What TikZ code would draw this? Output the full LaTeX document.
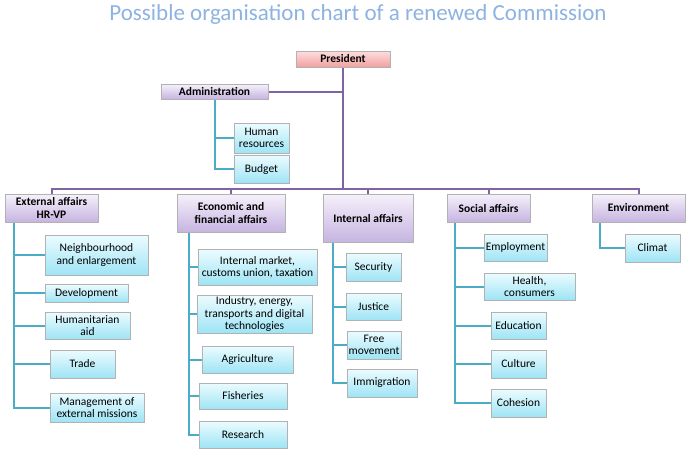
\documentclass[tikz,border=0pt]{standalone}
\usepackage{fontspec}
\setmainfont{Carlito}
\usetikzlibrary{shadows,backgrounds}
\definecolor{leadline}{RGB}{128,100,162}
\definecolor{unitline}{RGB}{75,172,198}
\definecolor{titleblue}{RGB}{141,179,226}
\definecolor{leadtop}{RGB}{246,241,251}
\definecolor{leadbot}{RGB}{198,180,224}
\definecolor{unittop}{RGB}{236,252,255}
\definecolor{unitbot}{RGB}{158,228,245}
\definecolor{prestop}{RGB}{253,222,222}
\definecolor{presbot}{RGB}{241,160,160}
\tikzset{
  sz/.style 2 args={minimum width=#1pt, minimum height=#2pt},
  base/.style={draw=black!30, inner sep=1pt, align=center, font=\fontsize{11.5}{12.5}\selectfont,
    drop shadow={shadow xshift=1.2pt, shadow yshift=-1.2pt, opacity=.35}},
  pres/.style={base, top color=prestop, bottom color=presbot, font=\fontsize{11.5}{12.5}\selectfont\bfseries},
  lead/.style={base, top color=leadtop, bottom color=leadbot, font=\fontsize{11.5}{13.5}\selectfont\bfseries},
  unit/.style={base, top color=unittop, bottom color=unitbot},
  leadwire/.style={draw=leadline, line width=2pt},
  unitwire/.style={draw=unitline, line width=2pt}
}
\begin{document}
\begin{tikzpicture}[x=1pt, y=-1pt]
    \useasboundingbox (0,0) rectangle (689,459);
    \node[text=titleblue, font=\fontsize{23}{25}\selectfont] (title) at (358,14) {Possible organisation chart of a renewed Commission};

    \coordinate (bar) at (0,189);
    \node[pres, sz={94}{16}] (pres) at (343,59) {President};
    \node[lead, sz={107}{15}] (adm) at (214.5,91.5) {Administration};
    \node[unit, sz={55}{30}] (hr) at (261.5,138) {Human\\resources};
    \node[unit, sz={55}{28}] (bud) at (261.5,169) {Budget};

    \node[lead, sz={93}{28}] (ext) at (51.5,208) {External affairs\\HR-VP};
    \node[lead, sz={108}{38}] (eco) at (231,213) {Economic and\\financial affairs};
    \node[lead, sz={90}{48}] (int) at (368,218) {Internal affairs};
    \node[lead, sz={83}{28}] (soc) at (488.5,208) {Social affairs};
    \node[lead, sz={93}{28}] (env) at (638.5,208) {Environment};

    \node[unit, sz={103}{40}] (nbh) at (96.5,255) {Neighbourhood\\and enlargement};
    \node[unit, sz={83}{18}] (dev) at (86.5,293) {Development};
    \node[unit, sz={85}{27}] (hum) at (87.5,325.5) {Humanitarian\\aid};
    \node[unit, sz={65}{28}] (trd) at (82.5,364) {Trade};
    \node[unit, sz={94}{29}] (mgt) at (97,407.5) {Management of\\external missions};

    \node[unit, sz={119}{36}] (ima) at (257.5,267) {Internal market,\\customs union, taxation};
    \node[unit, sz={115}{38}] (ind) at (254.5,314) {Industry, energy,\\transports and digital\\technologies};
    \node[unit, sz={91}{27}] (agr) at (247.5,359.5) {Agriculture};
    \node[unit, sz={88}{26}] (fis) at (243,396) {Fisheries};
    \node[unit, sz={88}{27}] (res) at (243,434.5) {Research};

    \node[unit, sz={55}{28}] (sec) at (373.5,267) {Security};
    \node[unit, sz={55}{27}] (jus) at (373.5,306.5) {Justice};
    \node[unit, sz={54}{28}] (fre) at (374,345) {Free\\movement};
    \node[unit, sz={70}{28}] (imm) at (382,383) {Immigration};

    \node[unit, sz={63}{27}] (emp) at (515.5,247.5) {Employment};
    \node[unit, sz={91}{27}] (hea) at (529.5,286.5) {Health,\\consumers};
    \node[unit, sz={55}{27}] (edu) at (518.5,325.5) {Education};
    \node[unit, sz={55}{28}] (cul) at (518.5,364) {Culture};
    \node[unit, sz={55}{28}] (coh) at (518.5,403) {Cohesion};

    \node[unit, sz={55}{28}] (cli) at (652.5,248) {Climat};

    \begin{scope}[on background layer]
    \fill[white] (0,0) rectangle (689,459);
    \path[leadwire] (pres.south) -- (pres.south |- bar);
    \path[leadwire] (adm.east) -- (adm.east -| pres.south);
    \path[leadwire] (ext.north) |- (env.north |- bar) -- (env.north);
    \foreach \n in {eco,int,soc}
        \path[leadwire] (\n.north) -- (\n.north |- bar);

    \foreach \n in {hr,bud}
        \path[unitwire] (adm.south) |- (\n.west);
    \foreach \n in {nbh,dev,hum,trd,mgt}
        \path[unitwire] ([xshift=9pt]ext.south west) |- (\n.west);
    \foreach \n in {ima,ind,agr,fis,res}
        \path[unitwire] ([xshift=12pt]eco.south west) |- (\n.west);
    \foreach \n in {sec,jus,fre,imm}
        \path[unitwire] ([xshift=10pt]int.south west) |- (\n.west);
    \foreach \n in {emp,hea,edu,cul,coh}
        \path[unitwire] ([xshift=8pt]soc.south west) |- (\n.west);
    \path[unitwire] ([xshift=8pt]env.south west) |- (cli.west);
    \end{scope}
\end{tikzpicture}
\end{document}
